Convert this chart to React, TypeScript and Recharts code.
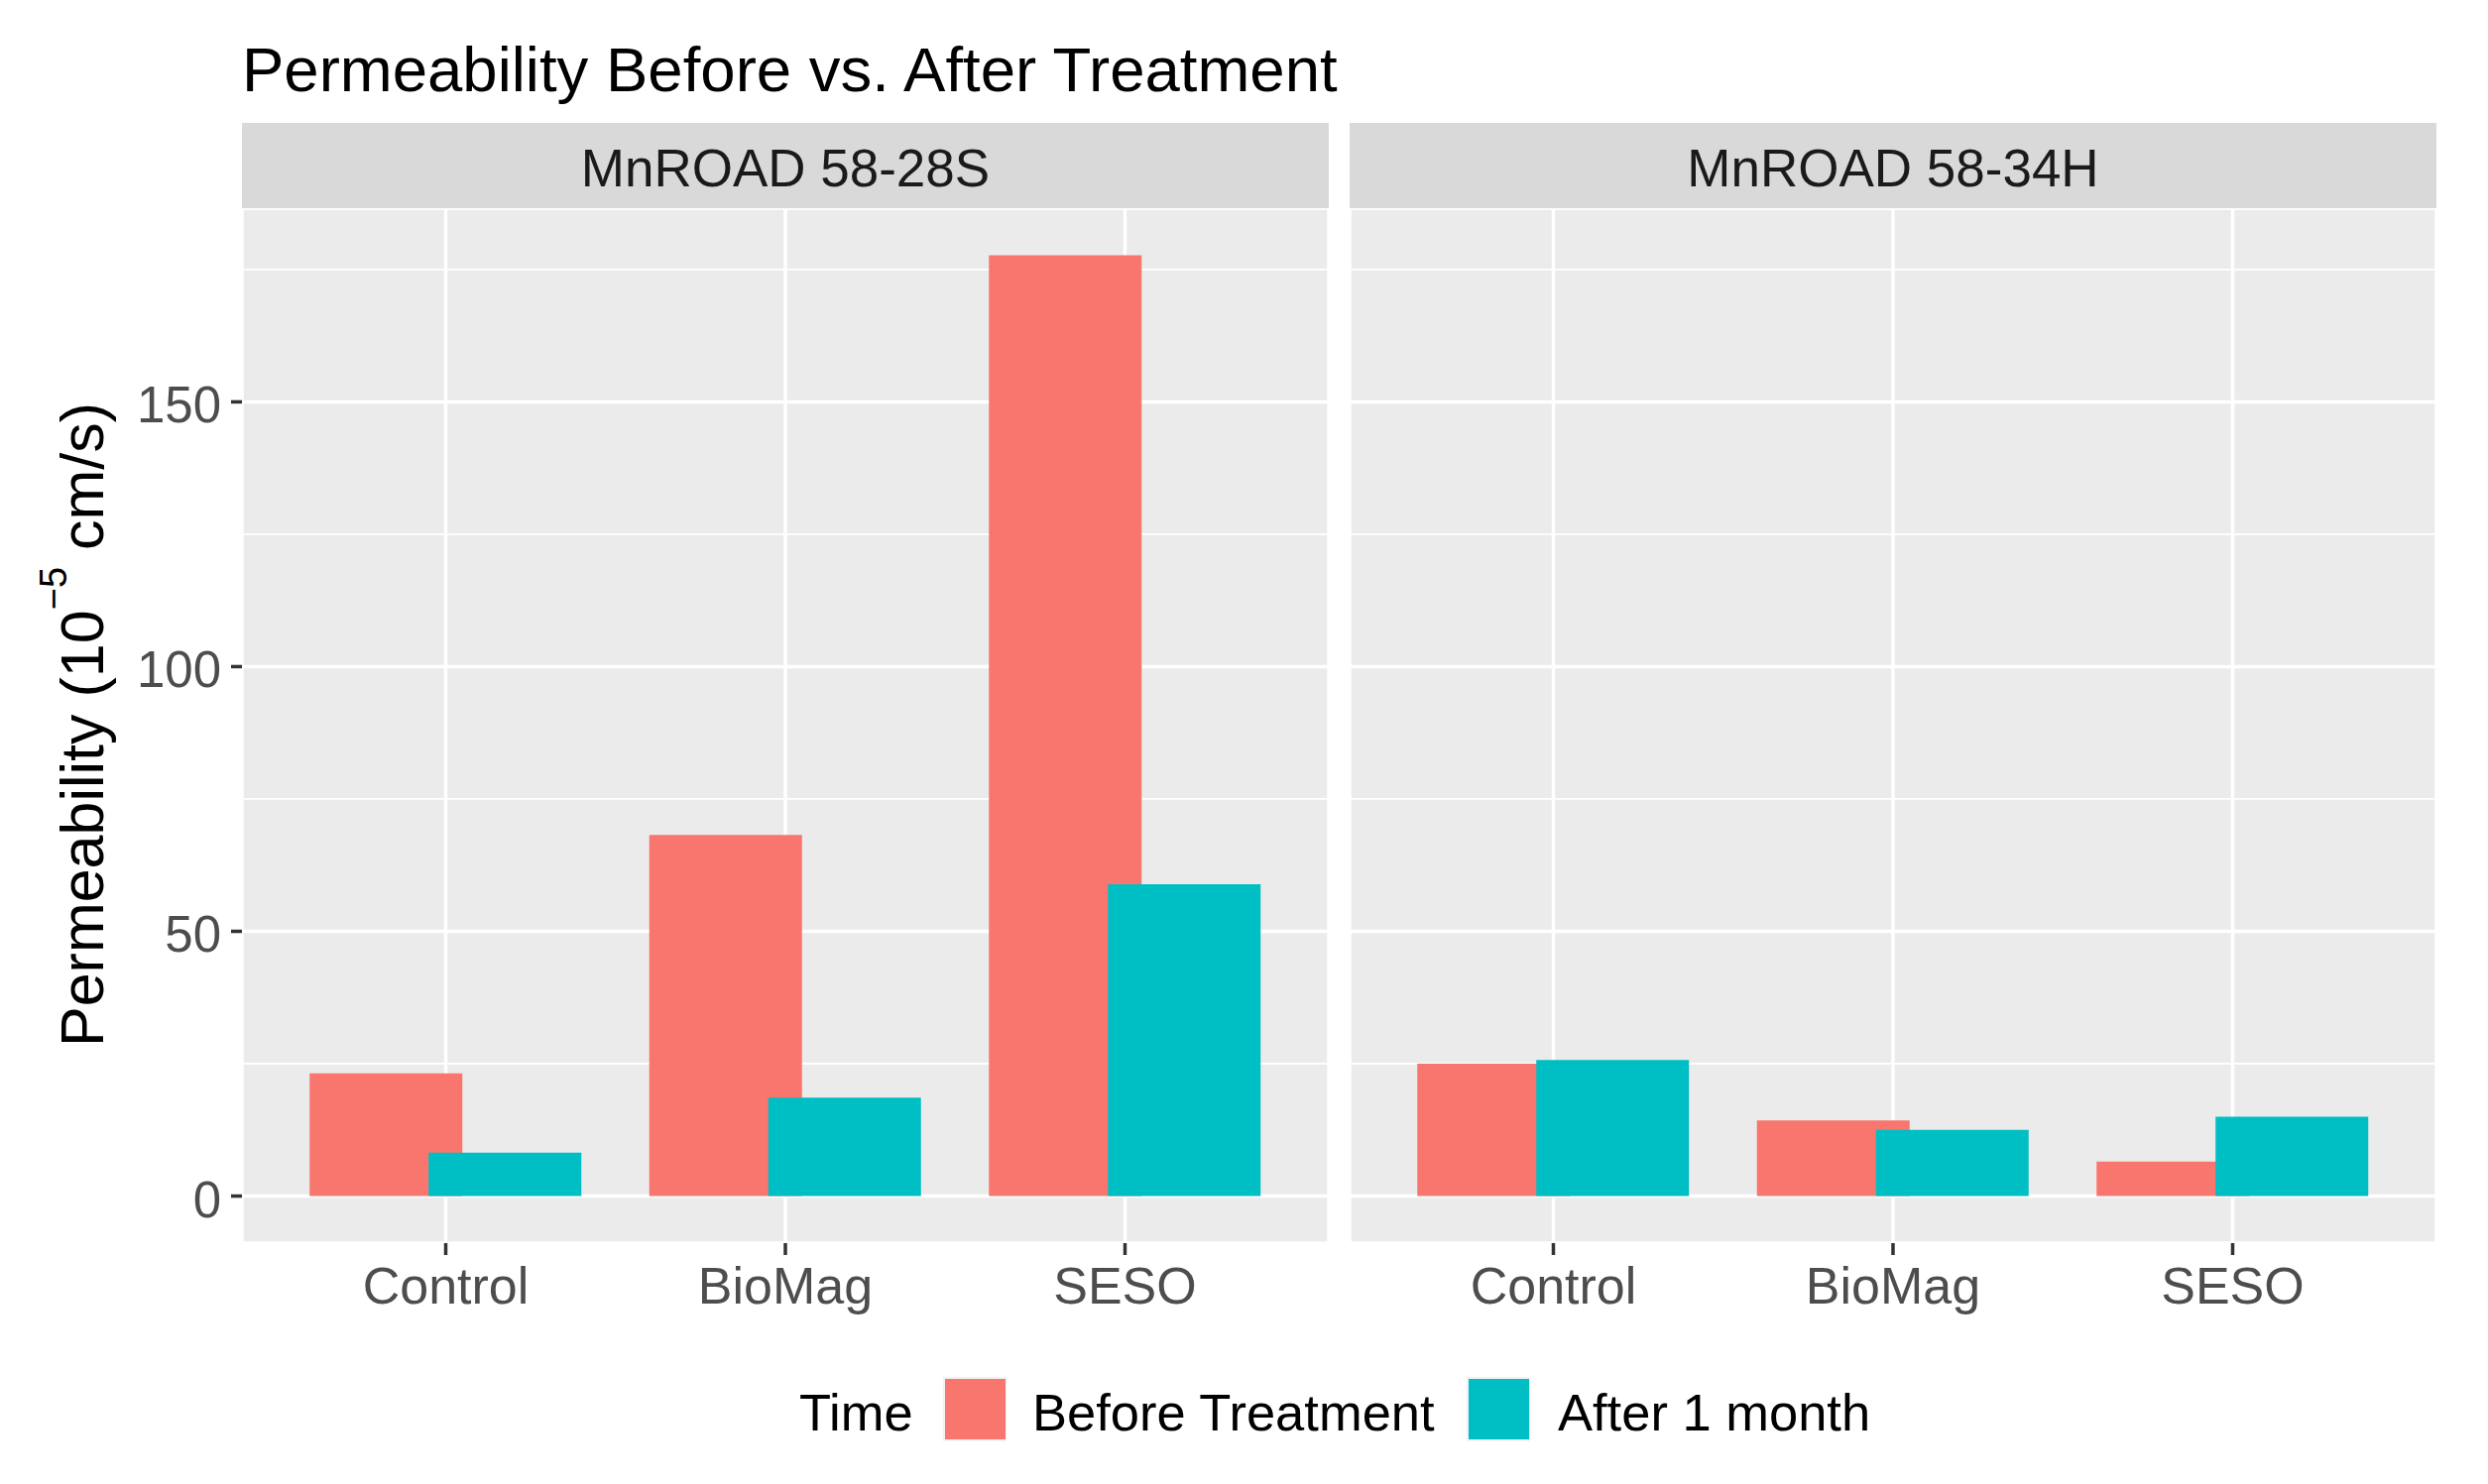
import React from 'react';
import { BarChart, Bar, XAxis, YAxis, CartesianGrid } from 'recharts';

const FONT = '"Liberation Sans", Arial, Helvetica, sans-serif';

// ---- data ----
const categories = ['Control', 'BioMag', 'SESO'];
const panelNames = ['MnROAD 58-28S', 'MnROAD 58-34H'];
const seriesNames = ['Before Treatment', 'After 1 month'];
const seriesColors = ['#F8766D', '#00BFC4'];
const before28S = [23.2, 68.2, 177.7];
const after28S = [8.2, 18.6, 58.9];
const before34H = [25.0, 14.3, 6.5];
const after34H = [25.7, 12.5, 15.0];
const yTicks = [0, 50, 100, 150];
const yMinorTicks = [25, 75, 125, 175];
const yDomain = [-8.885, 186.585];

const buildData = (before: number[], after: number[]) =>
  categories.map((c, i) => ({ category: c, before: before[i], after: after[i] }));

const data28S = buildData(before28S, after28S);
const data34H = buildData(before34H, after34H);

const XTick = (props: any) => {
  const { x, y, payload } = props;
  return (
    <text x={x} y={y} dy={49} textAnchor="middle" fill="#4D4D4D" fontSize={52} fontFamily={FONT}>
      {payload.value}
    </text>
  );
};

const YTick = (props: any) => {
  const { x, y, payload } = props;
  return (
    <text x={x} y={y} dy={21} textAnchor="end" fill="#4D4D4D" fontSize={51} fontFamily={FONT}>
      {payload.value}
    </text>
  );
};

const FacetPanel = ({ data, width, showYAxis }: { data: any[]; width: number; showYAxis: boolean }) => (
  <BarChart
    width={width}
    height={1134}
    data={data}
    margin={{ top: 0, right: 0, bottom: 0, left: 0 }}
    barSize={154}
    barGap={-34}
  >
    <CartesianGrid yAxisId="major" fill="#EBEBEB" fillOpacity={1} stroke="#FFFFFF" strokeWidth={3.5} />
    <CartesianGrid yAxisId="minor" vertical={false} stroke="#FFFFFF" strokeWidth={1.8} />
    <XAxis
      dataKey="category"
      type="category"
      padding={{ left: 34.25, right: 34.25 }}
      height={90}
      tickSize={12}
      tickMargin={0}
      axisLine={false}
      tickLine={{ stroke: '#333333', strokeWidth: 3.5 }}
      tick={<XTick />}
      interval={0}
    />
    <YAxis
      yAxisId="major"
      type="number"
      domain={yDomain}
      allowDataOverflow
      ticks={yTicks}
      hide={!showYAxis}
      width={showYAxis ? 244 : 0}
      tickSize={11}
      tickMargin={10}
      axisLine={false}
      tickLine={{ stroke: '#333333', strokeWidth: 3.5 }}
      tick={<YTick />}
      interval={0}
    />
    <YAxis yAxisId="minor" type="number" domain={yDomain} allowDataOverflow ticks={yMinorTicks} hide width={0} interval={0} />
    <Bar yAxisId="major" dataKey="before" name={seriesNames[0]} fill={seriesColors[0]} isAnimationActive={false} />
    <Bar yAxisId="major" dataKey="after" name={seriesNames[1]} fill={seriesColors[1]} isAnimationActive={false} />
  </BarChart>
);

export default function App() {
  const keyX = [951, 1479];
  const labelX = [1041, 1571];
  return (
    <div
      style={{
        position: 'absolute',
        left: 0,
        top: 0,
        width: 2509,
        height: 1497,
        background: '#FFFFFF',
        fontFamily: FONT,
        overflow: 'hidden',
      }}
    >
      <div style={{ position: 'absolute', left: 0, top: 210 }}>
        <FacetPanel data={data28S} width={1340} showYAxis={true} />
      </div>
      <div style={{ position: 'absolute', left: 1361, top: 210 }}>
        <FacetPanel data={data34H} width={1096} showYAxis={false} />
      </div>
      <svg
        width={2509}
        height={1497}
        style={{ position: 'absolute', left: 0, top: 0, pointerEvents: 'none' }}
        fontFamily={FONT}
      >
        <text x={244} y={92} fontSize={63.5} fill="#000000">
          Permeability Before vs. After Treatment
        </text>
        <rect x={244} y={124} width={1096} height={86} fill="#D9D9D9" />
        <text x={792} y={188} fontSize={53} fill="#1A1A1A" textAnchor="middle">
          {panelNames[0]}
        </text>
        <rect x={1361} y={124} width={1096} height={86} fill="#D9D9D9" />
        <text x={1909} y={188} fontSize={53} fill="#1A1A1A" textAnchor="middle">
          {panelNames[1]}
        </text>
        <text transform="translate(104,731) rotate(-90)" fontSize={61} fill="#000000" textAnchor="middle">
          Permeability (10
          <tspan fontSize={38} dy={-37}>{'\u22125'}</tspan>
          <tspan dy={37}> cm/s)</tspan>
        </text>
        <text x={806} y={1443} fontSize={52.5} fill="#000000">
          Time
        </text>
        {seriesNames.map((name, i) => (
          <g key={name}>
            <rect x={keyX[i]} y={1389} width={64} height={65} fill="#F2F2F2" />
            <rect x={keyX[i] + 2} y={1391} width={61} height={61} fill={seriesColors[i]} />
            <text x={labelX[i]} y={1443} fontSize={52.5} fill="#000000">
              {name}
            </text>
          </g>
        ))}
      </svg>
    </div>
  );
}
